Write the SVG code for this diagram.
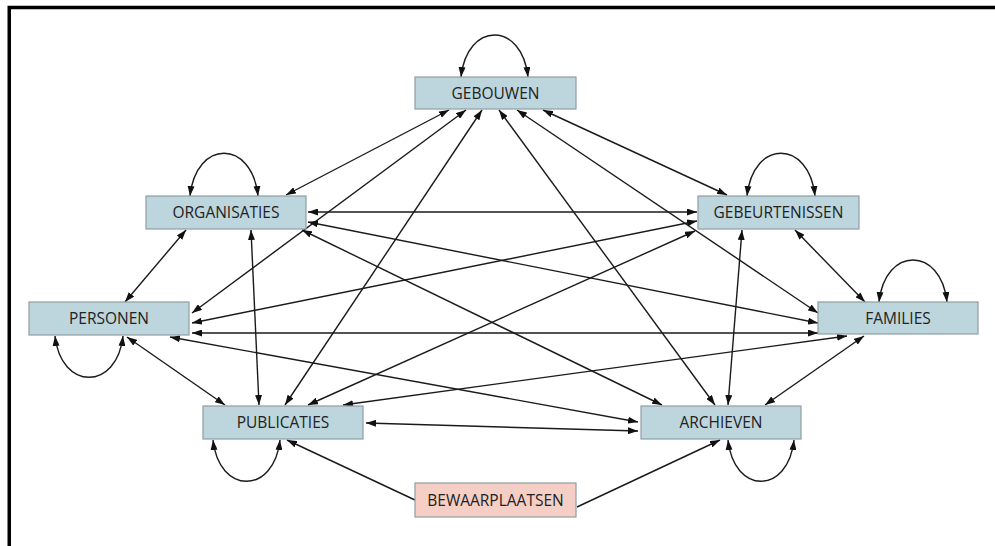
<svg xmlns="http://www.w3.org/2000/svg" width="995" height="546" viewBox="0 0 995 546">
<style>
.box{fill:#bdd5dc;stroke:#8e9ea2;stroke-width:1.2}
.bew{fill:#f5cfc5;stroke:#8e9ea2;stroke-width:1.2}
.lbl{font-family:"Open Sans","DejaVu Sans",sans-serif;font-size:15.5px;fill:#222;text-anchor:middle}
.e{fill:none;stroke:#1a1a1a;stroke-width:1.4;marker-start:url(#ah);marker-end:url(#ah)}
.one{fill:none;stroke:#1a1a1a;stroke-width:1.4;marker-end:url(#ah)}
</style>
<defs>
<marker id="ah" viewBox="0 0 10 7" refX="10" refY="3.5" markerWidth="10" markerHeight="7" markerUnits="userSpaceOnUse" orient="auto-start-reverse">
<path d="M0,0 L10,3.5 L0,7 z" fill="#111"/>
</marker>
</defs>
<rect width="995" height="546" fill="#fff"/>
<path d="M9.25,546 V7.5 H995" fill="none" stroke="#000" stroke-width="3.5"/>
<g id="connectors">
<path class="e" d="M449,110 L286,195"/>
<path class="e" d="M466,110 L192,313"/>
<path class="e" d="M482,110 L285,405"/>
<path class="e" d="M499,110 L715,405"/>
<path class="e" d="M517,110 L818,313"/>
<path class="e" d="M543,110 L727,195"/>
<path class="e" d="M308,212 L697,212"/>
<path class="e" d="M308,222 L818,323"/>
<path class="e" d="M302,230 L662,405"/>
<path class="e" d="M186,230 L125,302"/>
<path class="e" d="M251,230 L259,405"/>
<path class="e" d="M697,221 L192,323"/>
<path class="e" d="M695,231 L308,405"/>
<path class="e" d="M742,230 L728,405"/>
<path class="e" d="M795,230 L865,302"/>
<path class="e" d="M192,333 L818,333"/>
<path class="e" d="M127,337 L225,405"/>
<path class="e" d="M170,337 L638,422"/>
<path class="e" d="M847,336 L343,405"/>
<path class="e" d="M864,336 L765,405"/>
<path class="e" d="M366,423 L638,431"/>
<path class="one" d="M415,500 L287,440"/>
<path class="one" d="M577,507 L720,440"/>
<path class="e" d="M461,77 C467,21 522,21 528,77"/>
<path class="e" d="M190,196 C196,139 252,139 258,196"/>
<path class="e" d="M747,196 C753,139 809,139 815,196"/>
<path class="e" d="M879,302 C885,246 941,246 947,302"/>
<path class="e" d="M55,336 C61,391 117,391 123,336"/>
<path class="e" d="M213,440 C219,495 274,495 280,440"/>
<path class="e" d="M728,440 C734,495 788,495 794,440"/>
</g>
<g id="gebouwen"><rect class="box" x="415" y="77" width="161" height="32"/><text class="lbl" x="495.5" y="98.5">GEBOUWEN</text></g>
<g id="organisaties"><rect class="box" x="146" y="196" width="160" height="33"/><text class="lbl" x="226" y="218">ORGANISATIES</text></g>
<g id="gebeurtenissen"><rect class="box" x="698" y="196" width="161" height="33"/><text class="lbl" x="778.5" y="218">GEBEURTENISSEN</text></g>
<g id="personen"><rect class="box" x="29" y="302" width="160" height="33"/><text class="lbl" x="109" y="324">PERSONEN</text></g>
<g id="families"><rect class="box" x="818" y="302" width="160" height="32"/><text class="lbl" x="898" y="323.5">FAMILIES</text></g>
<g id="publicaties"><rect class="box" x="203" y="406" width="160" height="33"/><text class="lbl" x="283" y="428">PUBLICATIES</text></g>
<g id="archieven"><rect class="box" x="641" y="406" width="160" height="33"/><text class="lbl" x="721" y="428">ARCHIEVEN</text></g>
<g id="bewaarplaatsen"><rect class="bew" x="415" y="483" width="161" height="34"/><text class="lbl" x="495.5" y="505.5">BEWAARPLAATSEN</text></g>
</svg>
